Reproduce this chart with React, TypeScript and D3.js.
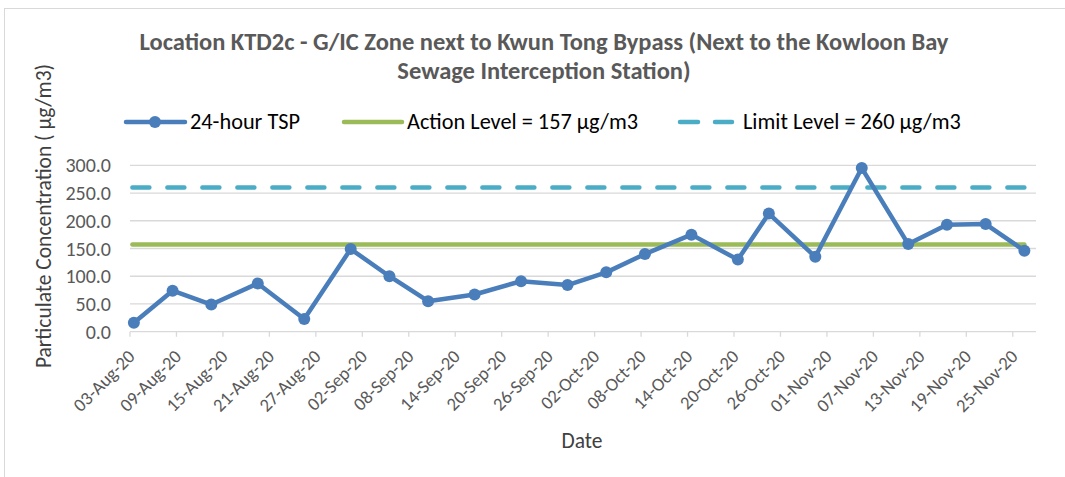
import React from "react";
import * as d3 from "d3";

const dates = [
  "2020-08-03", "2020-08-08", "2020-08-13", "2020-08-19", "2020-08-25", "2020-08-31",
  "2020-09-05", "2020-09-10", "2020-09-16", "2020-09-22", "2020-09-28", "2020-10-03",
  "2020-10-08", "2020-10-14", "2020-10-20", "2020-10-24", "2020-10-30", "2020-11-05",
  "2020-11-11", "2020-11-16", "2020-11-21", "2020-11-26",
];
const tsp = [16, 74, 49, 87, 23, 149, 100, 55, 67, 91, 84, 107, 140, 175, 130, 213, 135, 295, 158, 193, 194, 146];
const actionLevel = 157;
const limitLevel = 260;
const yTicks = [0, 50, 100, 150, 200, 250, 300];
const tickDates = [
  "2020-08-03", "2020-08-09", "2020-08-15", "2020-08-21", "2020-08-27", "2020-09-02",
  "2020-09-08", "2020-09-14", "2020-09-20", "2020-09-26", "2020-10-02", "2020-10-08",
  "2020-10-14", "2020-10-20", "2020-10-26", "2020-11-01", "2020-11-07", "2020-11-13",
  "2020-11-19", "2020-11-25",
];

const parse = (s: string) => {
  const [y, m, d] = s.split("-").map(Number);
  return new Date(Date.UTC(y, m - 1, d));
};
const fmt = d3.utcFormat("%d-%b-%y");
const DAY = 86400000;

export default function App() {
  const W = 1065, H = 477;
  const left = 130, right = 1036, top = 165.3, bottom = 331.7;
  const x = d3.scaleUtc().domain([parse("2020-08-03"), parse("2020-11-28")]).range([left, right]);
  const y = d3.scaleLinear().domain([0, 300]).range([bottom, top]);
  const px = (s: string) => x(new Date(parse(s).getTime() + DAY / 2));

  const pts: [number, number][] = dates.map((d, i) => [px(d), y(tsp[i])]);
  const line = d3.line();
  const x0 = px(dates[0]);
  const x1 = px(dates[dates.length - 1]);
  const font = "Carlito, Calibri, Lato, 'Open Sans', sans-serif";

  return (
    <svg width={W} height={H} style={{ position: "absolute", left: 0, top: 0, fontFamily: font }}>
      <rect x={4.5} y={8.5} width={1080} height={500} fill="#fff" stroke="#d9d9d9" />
      <text x={544} y={50} textAnchor="middle" fontSize={24.5} fontWeight="bold" fill="#595959">
        Location KTD2c - G/IC Zone next to Kwun Tong Bypass (Next to the Kowloon Bay
      </text>
      <text x={544} y={79} textAnchor="middle" fontSize={24.5} fontWeight="bold" fill="#595959">
        Sewage Interception Station)
      </text>

      {/* legend */}
      <g>
        <line x1={126} x2={185} y1={122} y2={122} stroke="#4a7ebb" strokeWidth={4.5} strokeLinecap="round" />
        <circle cx={155} cy={122} r={6} fill="#4a7ebb" />
        <text x={190} y={128.5} fontSize={22.3} fill="#000">24-hour TSP</text>
        <line x1={344} x2={402} y1={122} y2={122} stroke="#9bbb59" strokeWidth={4.5} strokeLinecap="round" />
        <text x={407} y={128.5} fontSize={22.3} fill="#000">Action Level = 157 µg/m3</text>
        <line x1={680} x2={698} y1={122} y2={122} stroke="#4bacc6" strokeWidth={4.5} strokeLinecap="round" />
        <line x1={715} x2={732} y1={122} y2={122} stroke="#4bacc6" strokeWidth={4.5} strokeLinecap="round" />
        <text x={743} y={128.5} fontSize={22.3} fill="#000">Limit Level = 260 µg/m3</text>
      </g>

      {/* gridlines */}
      {yTicks.map((t) => (
        <g key={t}>
          <line x1={left} x2={right} y1={y(t)} y2={y(t)} stroke="#d9d9d9" strokeWidth={1.3} />
          <text x={111} y={y(t) + 7} textAnchor="end" fontSize={20} fill="#595959">
            {t.toFixed(1)}
          </text>
        </g>
      ))}

      {/* x ticks */}
      {tickDates.map((s) => {
        const tx = x(parse(s));
        return (
          <g key={s}>
            <line x1={tx} x2={tx} y1={bottom} y2={bottom + 5} stroke="#d9d9d9" strokeWidth={1.3} />
            <text
              transform={`translate(${tx + 6},${bottom + 26}) rotate(-45)`}
              textAnchor="end"
              fontSize={18.5}
              fill="#595959"
            >
              {fmt(parse(s))}
            </text>
          </g>
        );
      })}

      <text x={582} y={448} textAnchor="middle" fontSize={21.5} fill="#404040">Date</text>
      <text transform={`translate(51,216) rotate(-90)`} textAnchor="middle" fontSize={21.5} fill="#404040">
        Particulate Concentration ( µg/m3)
      </text>

      {/* limit lines */}
      <line x1={x0 - 1.5} x2={x1} y1={y(limitLevel)} y2={y(limitLevel)} stroke="#4bacc6" strokeWidth={4.5}
        strokeDasharray="17 18" strokeLinecap="round" />
      <line x1={x0 - 1.5} x2={x1} y1={y(actionLevel)} y2={y(actionLevel)} stroke="#9bbb59" strokeWidth={4.5}
        strokeLinecap="round" />

      <path d={line(pts) || ""} fill="none" stroke="#4a7ebb" strokeWidth={4.5} strokeLinejoin="round" />
      {pts.map((p, i) => (
        <circle key={i} cx={p[0]} cy={p[1]} r={6} fill="#4a7ebb" />
      ))}
    </svg>
  );
}
